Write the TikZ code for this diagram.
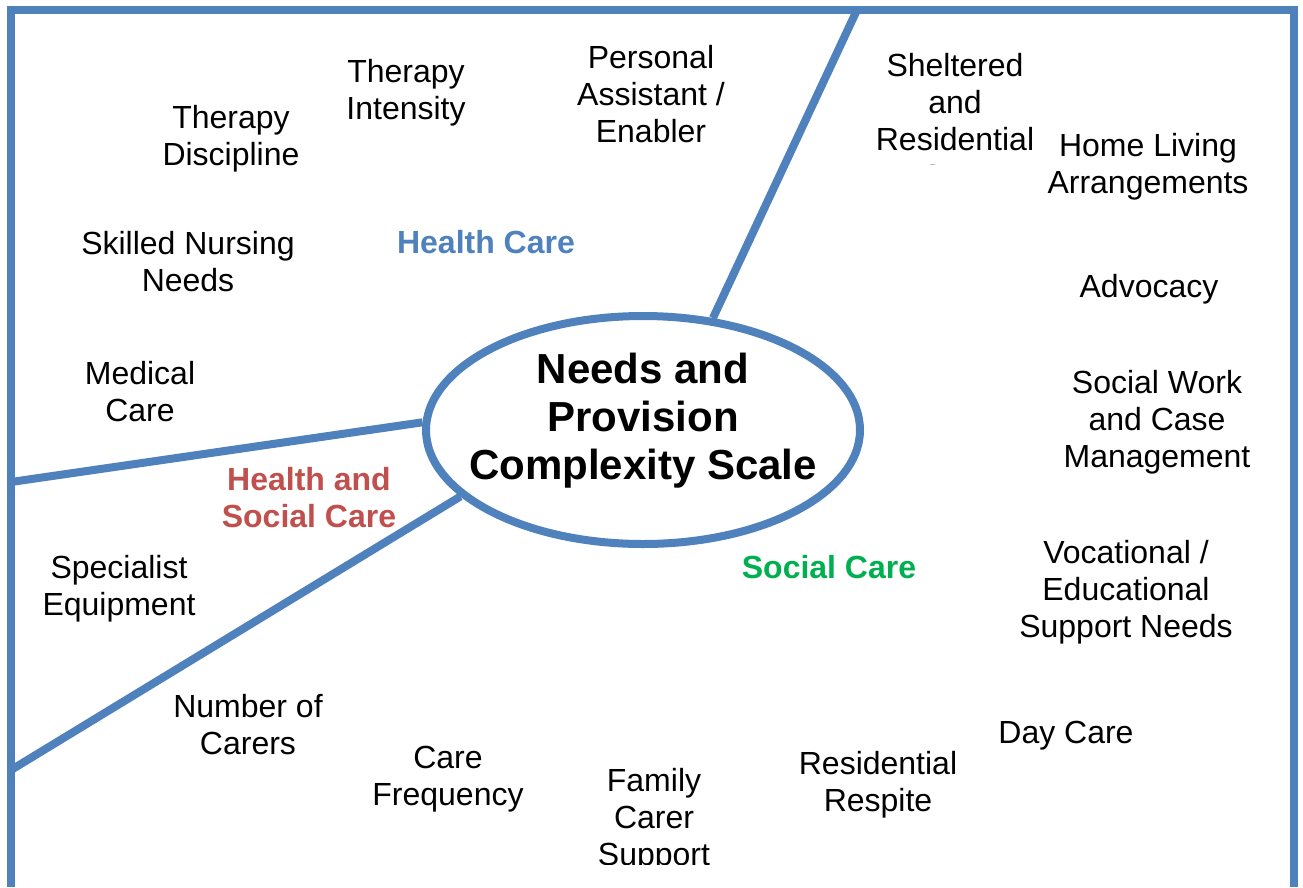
\documentclass[tikz,border=0pt]{standalone}
\usepackage{fontspec}
\setmainfont{Liberation Sans}
\usetikzlibrary{shapes.geometric}
\definecolor{ofblue}{HTML}{4F81BD}
\definecolor{ofred}{HTML}{C0504D}
\definecolor{ofgreen}{HTML}{00B050}
\begin{document}
\begin{tikzpicture}[x=1pt,y=-1pt,
  lbl/.style={align=center,font=\fontsize{32}{37}\selectfont,inner sep=0pt,yshift=-3pt},
  cat/.style={align=center,font=\fontsize{32}{37}\selectfont\bfseries,inner sep=0pt},
  bline/.style={draw=ofblue,line width=8pt},
  ttl/.style={align=center,font=\fontsize{42}{48}\selectfont\bfseries,inner sep=0pt}]
\useasboundingbox (0,0) rectangle (1303,887);
\fill[white] (0,0) rectangle (1303,887);
% frame (open at the bottom)
\draw[bline] (11,887) -- (11,10) -- (1294,10) -- (1294,887);
% central ellipse
\node[ellipse,bline,fill=white,minimum width=434pt,minimum height=228pt,inner sep=0pt] (ell) at (643,430) {};
\node[ttl] (title) at (643,421) {Needs and\\Provision\\Complexity Scale};
% frame end points of the dividers
\coordinate (ftop) at (857,10);
\coordinate (fleftA) at (11,482);
\coordinate (fleftB) at (11,770);
\draw[bline] (ell.58) -- (ftop);
\draw[bline] (ell.178) -- (fleftA);
\draw[bline] (ell.200) -- (fleftB);
% category labels
\node[cat,text=ofblue] (hc) at (486,242) {Health Care};
\node[cat,text=ofred] (hsc) at (309,498) {Health and\\Social Care};
\node[cat,text=ofgreen] (sc) at (829,567) {Social Care};
% items
\node[lbl] (ti) at (406,90) {Therapy\\Intensity};
\node[lbl] (td) at (231,136) {Therapy\\Discipline};
\node[lbl] (pa) at (651,91) {Personal\\Assistant /\\Enabler};
\node[lbl] (sn) at (188,259) {Skilled Nursing\\Needs};
\node[lbl] (mc) at (140,389) {Medical\\Care};
\node[lbl] (se) at (119,586) {Specialist\\Equipment};
\node[lbl] (nc) at (248,722) {Number of\\Carers};
\node[lbl] (cf) at (448,776) {Care\\Frequency};
\begin{scope}
  \clip (540,740) rectangle (770,864);
  \node[lbl] (fc) at (654,817) {Family\\Carer\\Support};
\end{scope}
\node[lbl] (rr) at (878,782) {Residential\\Respite};
\node[lbl] (dc) at (1066,733) {Day Care};
\node[lbl] (ve) at (1126,589) {Vocational /\\Educational\\Support Needs};
\node[lbl] (sw) at (1157,419) {Social Work\\and Case\\Management};
\node[lbl] (ad) at (1149,286) {Advocacy};
\node[lbl] (hl) at (1148,164) {Home Living\\Arrangements};
\begin{scope}
  \clip (860,30) rectangle (1050,164);
  \node[lbl] (sr) at (955,118) {Sheltered\\and\\Residential\\Care};
\end{scope}
\end{tikzpicture}
\end{document}
